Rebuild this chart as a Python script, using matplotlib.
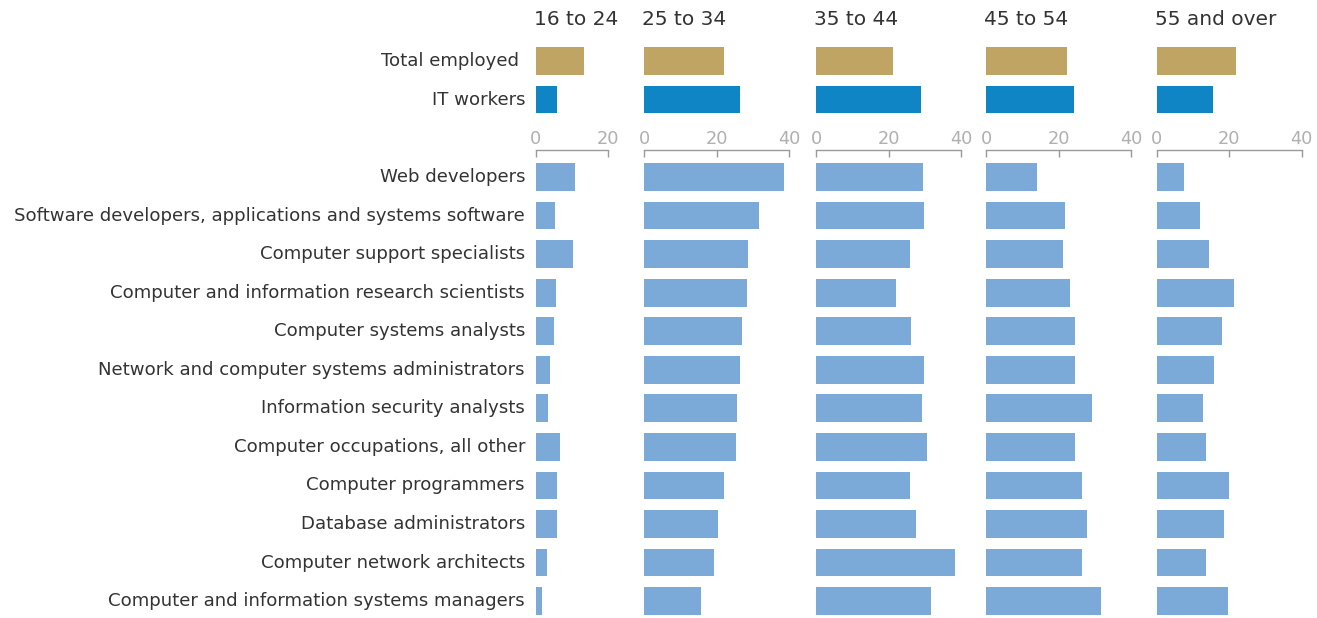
import matplotlib
matplotlib.use("Agg")
import matplotlib.pyplot as plt
from matplotlib.transforms import blended_transform_factory

# ---------------- data ----------------
age_groups = ["16 to 24", "25 to 34", "35 to 44", "45 to 54", "55 and over"]
summary_rows = ["Total employed ", "IT workers"]
total_employed = [13.2, 22.1, 21.2, 22.3, 21.8]
it_workers = [5.8, 26.5, 29.0, 24.3, 15.4]

occupations = [
    "Web developers",
    "Software developers, applications and systems software",
    "Computer support specialists",
    "Computer and information research scientists",
    "Computer systems analysts",
    "Network and computer systems administrators",
    "Information security analysts",
    "Computer occupations, all other",
    "Computer programmers",
    "Database administrators",
    "Computer network architects",
    "Computer and information systems managers",
]
occ_16_24 = [10.9, 5.3, 10.3, 5.6, 5.1, 4.0, 3.4, 6.7, 5.9, 5.9, 3.1, 1.7]
occ_25_34 = [38.5, 31.6, 28.6, 28.3, 26.9, 26.4, 25.6, 25.3, 22.0, 20.3, 19.2, 15.6]
occ_35_44 = [29.4, 29.7, 25.8, 22.0, 26.1, 29.7, 29.1, 30.5, 25.8, 27.5, 38.3, 31.6]
occ_45_54 = [14.0, 21.7, 21.1, 23.1, 24.5, 24.5, 29.1, 24.5, 26.4, 27.8, 26.4, 31.6]
occ_55_over = [7.5, 12.0, 14.4, 21.3, 18.0, 15.8, 12.8, 13.6, 20.0, 18.6, 13.6, 19.7]
occ_by_group = [occ_16_24, occ_25_34, occ_35_44, occ_45_54, occ_55_over]

axis_max = [20, 40, 40, 40, 40]
axis_ticks = [[0, 20], [0, 20, 40], [0, 20, 40], [0, 20, 40], [0, 20, 40]]

# ---------------- style ----------------
GOLD = "#bfa463"
DARK_BLUE = "#1085c5"
LIGHT_BLUE = "#7ba9d8"
TEXT = "#333333"
AXIS = "#9a9a9a"
TICKTXT = "#b0b0b0"
plt.rcParams["font.family"] = ["DejaVu Sans"]

W, H = 1317, 618
fig = plt.figure(figsize=(W / 100, H / 100), dpi=100)
fig.patch.set_facecolor("white")

PX_PER_UNIT = 3.625
ROW = 38.55
panel_x0 = [535.7, 644.3, 816.3, 986.3, 1156.7]
BAR_H = 0.72


def px_axes(x0, y_top, w, h):
    return fig.add_axes([x0 / W, 1 - (y_top + h) / H, w / W, h / H])


# top section: rows centered at 61 and 99.6
top_y0, top_y1 = 40, 120
top_lim = ((top_y1 - 61) / ROW, (top_y0 - 61) / ROW)
# bottom section: rows start at 177
bot_y0, bot_y1 = 150, 618
bot_lim = ((bot_y1 - 177) / ROW, (bot_y0 - 177) / ROW)

label_size = 12.5
label_texts = []
top_axes = []
bot_axes = []
for i, grp in enumerate(age_groups):
    x0 = panel_x0[i]
    w = axis_max[i] * PX_PER_UNIT

    axt = px_axes(x0, top_y0, w, top_y1 - top_y0)
    axt.barh([0, 1], [total_employed[i], it_workers[i]], height=BAR_H,
             color=[GOLD, DARK_BLUE], clip_on=False)
    axt.set_xlim(0, axis_max[i])
    axt.set_ylim(*top_lim)
    axt.axis("off")
    top_axes.append(axt)

    axb = px_axes(x0, bot_y0, w, bot_y1 - bot_y0)
    axb.barh(range(len(occupations)), occ_by_group[i], height=BAR_H,
             color=LIGHT_BLUE, clip_on=False)
    axb.set_xlim(0, axis_max[i])
    axb.set_ylim(*bot_lim)
    for s in ["left", "right", "bottom"]:
        axb.spines[s].set_visible(False)
    axb.spines["top"].set_color(AXIS)
    axb.spines["top"].set_linewidth(1.0)
    axb.set_yticks([])
    axb.set_xticks(axis_ticks[i])
    axb.xaxis.set_ticks_position("top")
    axb.tick_params(axis="x", direction="in", length=5, width=1.0, color=AXIS,
                    labelcolor=TICKTXT, labelsize=12.8, pad=1.5,
                    top=True, bottom=False, labeltop=True, labelbottom=False)
    bot_axes.append(axb)

    fig.text((x0 - 2) / W, 1 - 19.5 / H, grp, ha="left", va="center",
             fontsize=14.5, color=TEXT)

# row labels
tr_top = blended_transform_factory(fig.transFigure, top_axes[0].transData)
tr_bot = blended_transform_factory(fig.transFigure, bot_axes[0].transData)
for j, name in enumerate(summary_rows):
    label_texts.append(fig.text(525 / W, j, name, transform=tr_top, ha="right",
                                va="center", fontsize=label_size, color=TEXT))
for j, name in enumerate(occupations):
    label_texts.append(fig.text(525 / W, j, name, transform=tr_bot, ha="right",
                                va="center", fontsize=label_size, color=TEXT))

# fit label size so the longest label spans the same width as in the reference
fig.canvas.draw()
r = fig.canvas.get_renderer()
longest = label_texts[2 + 1]
wpx = longest.get_window_extent(r).width
new_size = label_size * 513.0 / wpx
for t in label_texts:
    t.set_fontsize(new_size)

fig.savefig("out.png", dpi=100, facecolor="white")
